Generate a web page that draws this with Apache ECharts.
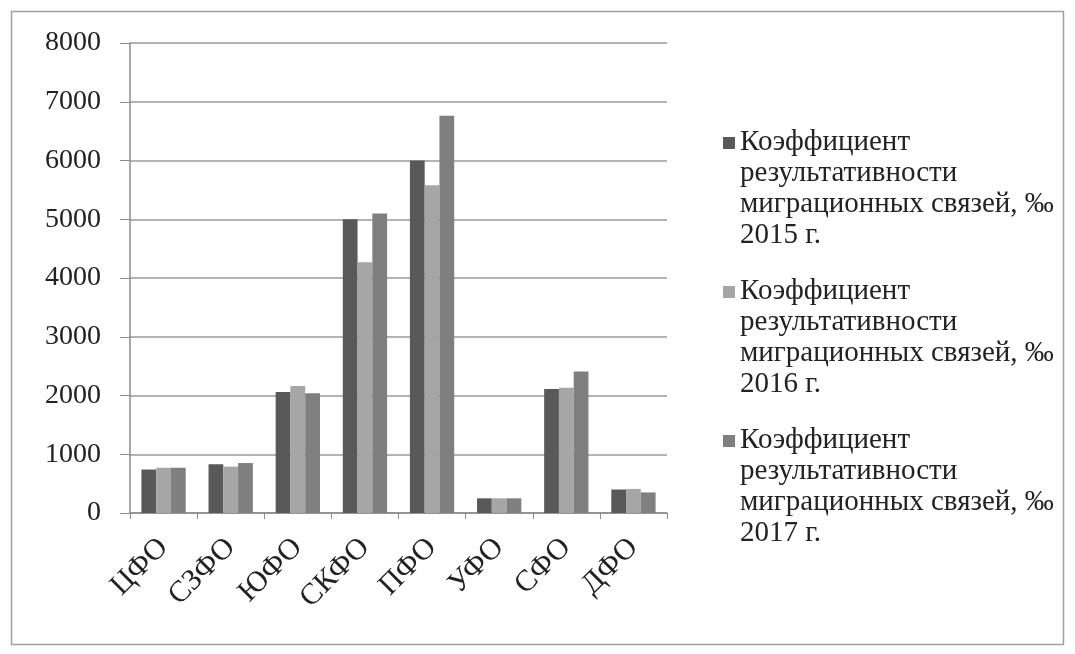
<!DOCTYPE html>
<html><head><meta charset="utf-8">
<script src="https://cdn.jsdelivr.net/npm/echarts@6/dist/echarts.min.js"></script>
<style>html,body{margin:0;padding:0;background:#fff}#c{width:1075px;height:654px}</style>
</head><body><div id="c"></div>
<script>
const categories = ['ЦФО','СЗФО','ЮФО','СКФО','ПФО','УФО','СФО','ДФО'];
const seriesNames = [
  'Коэффициент\nрезультативности\nмиграционных связей, ‰\n2015 г.',
  'Коэффициент\nрезультативности\nмиграционных связей, ‰\n2016 г.',
  'Коэффициент\nрезультативности\nмиграционных связей, ‰\n2017 г.'
];
const values2015 = [740, 830, 2060, 5000, 6000, 250, 2110, 400];
const values2016 = [770, 790, 2160, 4270, 5580, 250, 2130, 410];
const values2017 = [770, 850, 2040, 5100, 6760, 250, 2410, 350];
const yTicks = [0, 1000, 2000, 3000, 4000, 5000, 6000, 7000, 8000];
const colors = ['#595959', '#a6a6a6', '#7f7f7f'];

const font = "'Liberation Serif', 'Times New Roman', serif";
const iconPath = 'path://M0,0h0.01v0.01h-0.01z M0,10h12v12h-12z M11.99,124h0.01v0.01h-0.01z';

const chart = echarts.init(document.getElementById('c'), null, {renderer: 'canvas'});
const allVals = [values2015, values2016, values2017];
chart.setOption({
  animation: false,
  backgroundColor: '#fff',
  color: colors,
  graphic: [{
    type: 'rect', shape: {x: 11.5, y: 11.5, width: 1052, height: 633},
    style: {fill: 'none', stroke: '#a0a0a0', lineWidth: 1.5}, silent: true, z: -1
  }],
  grid: {left: 130, right: 408, top: 43, bottom: 141, containLabel: false},
  legend: {
    orient: 'vertical', left: 718, top: 122,
    itemWidth: 12, itemHeight: 124, itemGap: 25, itemStyle: {borderWidth: 0},
    icon: iconPath,
    textStyle: {fontFamily: font, fontSize: 29, color: '#222', lineHeight: 31},
    data: seriesNames
  },
  xAxis: {
    type: 'category', data: categories,
    axisLine: {show: true, lineStyle: {color: '#8c8c8c', width: 1.5}},
    axisTick: {show: true, length: 6, lineStyle: {color: '#8c8c8c'}},
    axisLabel: {rotate: 45, fontFamily: font, fontSize: 30, color: '#222', margin: 30, interval: 0}
  },
  yAxis: {
    type: 'value', min: yTicks[0], max: yTicks[yTicks.length - 1], interval: 1000,
    axisLine: {show: true, lineStyle: {color: '#8c8c8c', width: 1.5}},
    axisTick: {show: true, length: 10, lineStyle: {color: '#8c8c8c'}},
    splitLine: {show: true, lineStyle: {color: '#9a9a9a', width: 1.5}},
    axisLabel: {fontFamily: font, fontSize: 28, color: '#222', margin: 29, formatter: v => String(v)}
  },
  series: seriesNames.map((n, i) => ({
    name: n, type: 'bar', data: allVals[i],
    barGap: '0%', barCategoryGap: '34%',
    itemStyle: {color: colors[i]}
  }))
});
</script></body></html>
